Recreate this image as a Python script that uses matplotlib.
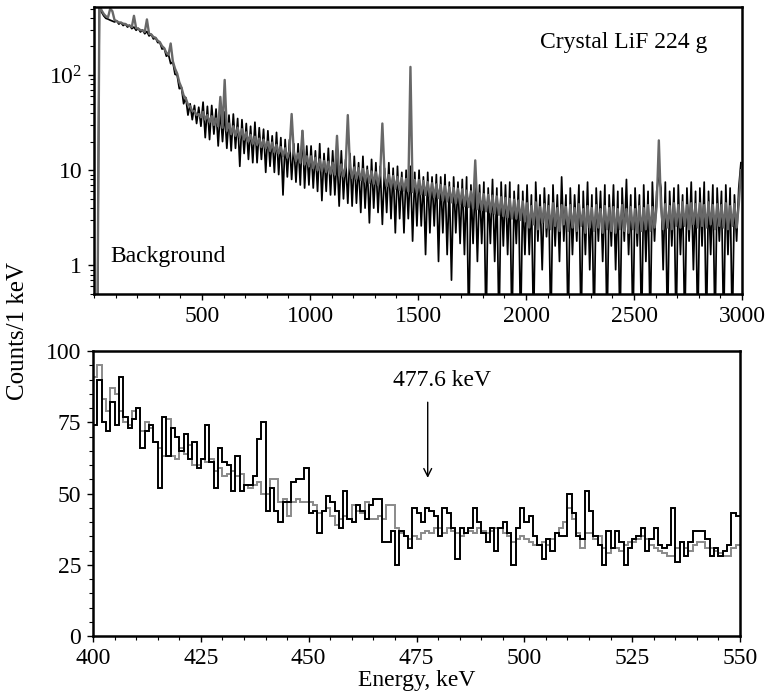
import numpy as np
import matplotlib
matplotlib.use("Agg")
import matplotlib.pyplot as plt
from matplotlib.ticker import MultipleLocator, FixedLocator, FixedFormatter, LogLocator, NullFormatter

# ---------------- data: top panel (10 keV groups, centres 5..2995 keV) ----------------
top_gray_rows = [
    [0.1, 0.1, 560, 480, 440, 415, 405, 500, 470, 380],
    [370, 358, 357, 347, 345, 333, 331, 320, 420, 312],
    [308, 297, 295, 284, 385, 272, 268, 252, 247, 230],
    [222, 202, 192, 172, 164, 215, 140, 117, 104, 84],
    [74, 61, 57, 49, 47, 42, 42, 38, 39, 36],
    [41, 34, 38, 32, 37, 30, 35, 29, 59, 28],
    [89, 26, 31, 24, 29, 23, 28, 22, 27, 21],
    [25, 20, 23.5, 19, 22.5, 18.5, 21.5, 17.5, 21, 17],
    [20, 16, 19.5, 15.5, 18.5, 15, 17.5, 14, 17, 13.5],
    [16, 39, 15.5, 12.5, 15, 12, 26, 11.5, 14, 11],
    [14, 10.5, 13.5, 10, 13, 9.8, 12.5, 9.6, 12.3, 9.2],
    [12, 9, 23, 8.8, 11.5, 8.6, 11.1, 38, 10.9, 8.3],
    [10.7, 8.1, 10.5, 7.9, 10.3, 7.6, 10, 7.4, 9.7, 7.2],
    [9.5, 7, 9.3, 31, 9.1, 6.8, 8.9, 6.6, 8.7, 6.4],
    [8.5, 6.2, 8.3, 6.1, 8.1, 6, 122, 5.9, 7.9, 5.8],
    [7.9, 5.6, 7.7, 5.5, 7.5, 5.3, 7.3, 5.2, 7.1, 5.1],
    [7, 4.8, 6.8, 4.7, 6.6, 4.6, 6.5, 4.5, 6.4, 4.4],
    [6.3, 4.2, 6.1, 4.1, 6, 4, 12.7, 3.9, 5.7, 3.8],
    [5.6, 3.7, 5.5, 3.6, 5.4, 3.5, 5.3, 3.4, 5.2, 3.3],
    [5.1, 3.2, 5, 3.1, 4.9, 3.1, 4.8, 3, 4.7, 2.9],
    [4.5, 2.5, 4.2, 2.7, 4.6, 2.4, 4.1, 2.8, 4.4, 2.5],
    [4.2, 2.4, 4.5, 2.6, 4.0, 2.3, 4.3, 2.7, 4.1, 2.3],
    [4.3, 2.5, 4.0, 2.3, 4.4, 2.6, 3.9, 2.2, 4.2, 2.5],
    [4.0, 2.3, 4.3, 2.5, 3.9, 2.2, 4.2, 2.4, 4.0, 2.3],
    [4.1, 2.2, 3.9, 2.4, 4.3, 2.3, 3.9, 2.2, 4.1, 2.4],
    [3.9, 2.2, 4.2, 2.3, 4.0, 2.4, 4.3, 2.3, 4.1, 2.5],
    [4.2, 20.6, 4.1, 2.4, 4.4, 2.5, 4.2, 2.4, 4.5, 2.6],
    [4.3, 2.5, 4.6, 2.6, 4.3, 2.4, 4.5, 2.7, 4.4, 2.5],
    [4.5, 2.6, 4.3, 2.5, 4.6, 2.7, 4.3, 2.4, 4.4, 2.6],
    [4.3, 2.5, 4.5, 2.4, 4.2, 2.6, 4.4, 2.5, 4.3, 10],
]
top_black_rows = [
    [0.1, 0.1, 600, 460, 420, 395, 388, 378, 370, 362],
    [372, 344, 356, 332, 346, 320, 334, 308, 320, 296],
    [310, 284, 298, 272, 288, 258, 268, 240, 246, 220],
    [220, 188, 192, 158, 164, 132, 138, 102, 100, 72],
    [74, 50, 58, 38, 50, 34, 48, 31, 46, 29],
    [52, 22, 47, 21, 48, 24, 44, 18, 43, 20],
    [41, 17, 38, 16, 39, 17, 35, 11, 34, 15],
    [31, 13, 29, 12, 32, 12, 28, 13, 27, 9.5],
    [26, 11, 23, 9.5, 25, 9, 22, 5.5, 21, 8.5],
    [21, 8, 19, 7.5, 19, 7, 26, 6.5, 18, 7],
    [18, 6.5, 16, 6, 19, 4.8, 15, 6, 17, 5.5],
    [16, 5.5, 14, 4.2, 16, 5, 13, 4.5, 15, 4.2],
    [14, 4.5, 12, 3.6, 14, 4, 11, 2.8, 13, 4],
    [12, 3.6, 11, 2.7, 10.5, 3.6, 12, 3.1, 10.5, 2.2],
    [11, 3.1, 9.5, 2.2, 10, 3.1, 11, 1.8, 9.5, 2.6],
    [10, 2.6, 8.5, 1.3, 9.5, 2.2, 8.5, 2.6, 9, 1.1],
    [8.5, 2.2, 9, 1.3, 7.5, 0.7, 8.5, 2.2, 7.5, 1.7],
    [8, 1.3, 8.5, 0.2, 7, 1.7, 8, 1.1, 7, 1.7],
    [7.5, 0.2, 6.5, 1.7, 8, 1.1, 6.5, 0.2, 7.5, 1.6],
    [7, 1.3, 7.5, 0.2, 6, 1.7, 7, 0.2, 6, 1.3],
    [7, 1.3, 5.5, 0.2, 7.5, 1.8, 5.5, 0.9, 6.5, 2],
    [5.5, 0.2, 7, 1.6, 5.5, 1.1, 8.5, 1.8, 5.5, 0.2],
    [6.5, 1.3, 5.5, 1.8, 7, 0.2, 6, 1.3, 7.5, 0.9],
    [5.5, 0.2, 6.5, 1.8, 6, 1.1, 7, 0.2, 5.5, 1.6],
    [7, 0.9, 6, 0.2, 6.5, 1.8, 8, 1.3, 5.5, 0.2],
    [6.5, 1.6, 5.5, 0.2, 7, 1.1, 6, 0.2, 7.5, 1.8],
    [6, 9, 6.5, 0.9, 7.5, 0.2, 6, 1.6, 6.5, 0.2],
    [7, 1.3, 5.5, 0.2, 6.5, 1.8, 7.5, 0.9, 6, 0.2],
    [6.5, 1.6, 7.5, 0.2, 6, 1.3, 7, 0.2, 6.5, 1.8],
    [6, 0.2, 7, 1.3, 6.5, 0.2, 5.5, 1.8, 6.5, 12],
]
top_gray = [v for row in top_gray_rows for v in row]
top_black = [v for row in top_black_rows for v in row]
top_energy = np.arange(5, 3000, 10)

# ---------------- data: bottom panel (1 keV bins, 400..550 keV) ----------------
bottom_black = [
    74, 90, 75, 72, 82, 74, 91, 77, 73, 76,
    80, 66, 72, 74, 68, 52, 77, 63, 73, 70,
    65, 71, 62, 68, 59, 62, 74, 61, 52, 66,
    61, 60, 51, 63, 51, 53, 53, 56, 69, 75,
    44, 52, 44, 40, 47, 47, 54, 55, 55, 59,
    43, 44, 36, 44, 49, 47, 44, 38, 51, 41,
    40, 46, 44, 41, 46, 48, 48, 33, 33, 37,
    25, 37, 35, 31, 45, 43, 40, 45, 44, 42,
    35, 45, 43, 38, 27, 38, 36, 38, 45, 40,
    36, 33, 38, 30, 38, 40, 36, 25, 38, 45,
    40, 42, 35, 32, 27, 34, 30, 36, 35, 35,
    50, 43, 35, 34, 51, 44, 35, 32, 25, 37,
    31, 37, 33, 25, 31, 34, 35, 38, 30, 34,
    38, 32, 31, 32, 45, 26, 33, 28, 33, 37,
    37, 37, 34, 28, 31, 28, 30, 32, 43, 42,
]
bottom_gray = [
    91, 95, 83, 79, 87, 85, 79, 75, 74, 79,
    80, 72, 75, 73, 68, 66, 63, 76, 63, 62,
    66, 64, 67, 60, 60, 62, 61, 62, 58, 59,
    56, 57, 58, 56, 57, 53, 52, 53, 54, 50,
    50, 55, 55, 47, 48, 42, 47, 48, 47, 47,
    47, 46, 43, 44, 45, 42, 39, 41, 42, 41,
    46, 44, 43, 47, 41, 41, 42, 41, 46, 46,
    38, 36, 35, 34, 35, 34, 36, 37, 36, 38,
    38, 36, 38, 37, 36, 35, 36, 37, 36, 38,
    37, 36, 37, 38, 38, 36, 35, 33, 34, 35,
    34, 33, 32, 32, 33, 32, 34, 36, 38, 40,
    45, 41, 36, 31, 36, 36, 34, 35, 31, 29,
    31, 31, 30, 32, 33, 33, 34, 35, 34, 32,
    31, 30, 29, 28, 28, 31, 33, 31, 30, 32,
    33, 33, 31, 31, 30, 29, 28, 28, 31, 32,
]
bottom_edges = np.arange(400, 551)

top_xticks = [500, 1000, 1500, 2000, 2500, 3000]
top_yticks = [1, 10, 100]
top_ylabels = ["1", "10", "$10^2$"]
bottom_xticks = [400, 425, 450, 475, 500, 525, 550]
bottom_yticks = [0, 25, 50, 75, 100]

# ---------------- styling ----------------
plt.rcParams["font.family"] = ["Liberation Serif", "DejaVu Serif"]
plt.rcParams["mathtext.fontset"] = "custom"
plt.rcParams["mathtext.rm"] = "Liberation Serif"
plt.rcParams["mathtext.it"] = "Liberation Serif:italic"
plt.rcParams["mathtext.bf"] = "Liberation Serif:bold"

FS = 17
fig = plt.figure(figsize=(7.65, 7.0), dpi=100)
ax1 = fig.add_axes([94 / 765, 1 - 294 / 700, 648 / 765, 287 / 700])
ax2 = fig.add_axes([93 / 765, 1 - 636 / 700, 647 / 765, 285 / 700])

# top panel
ax1.plot(top_energy, top_black, color="black", lw=1.25)
ax1.plot(top_energy, top_gray, color="#686868", lw=1.7)
ax1.set_yscale("log")
ax1.set_xlim(0, 3000)
ax1.set_ylim(0.5, 520)
ax1.xaxis.set_major_locator(FixedLocator(top_xticks))
ax1.xaxis.set_minor_locator(MultipleLocator(100))
ax1.yaxis.set_major_locator(FixedLocator(top_yticks))
ax1.yaxis.set_major_formatter(FixedFormatter(top_ylabels))
ax1.yaxis.set_minor_locator(LogLocator(base=10, subs=np.arange(2, 10)))
ax1.yaxis.set_minor_formatter(NullFormatter())
ax1.text(0.688, 0.875, "Crystal LiF 224 g", transform=ax1.transAxes,
         ha="left", va="center", fontsize=FS)
ax1.text(0.025, 0.129, "Background", transform=ax1.transAxes,
         ha="left", va="center", fontsize=FS)

# bottom panel
ax2.stairs(bottom_gray, bottom_edges, color="#8a8a8a", lw=1.4, baseline=None)
ax2.stairs(bottom_black, bottom_edges, color="black", lw=1.4, baseline=None)
ax2.set_xlim(400, 550)
ax2.set_ylim(0, 100)
ax2.xaxis.set_major_locator(FixedLocator(bottom_xticks))
ax2.xaxis.set_minor_locator(MultipleLocator(5))
ax2.yaxis.set_major_locator(FixedLocator(bottom_yticks))
ax2.yaxis.set_minor_locator(MultipleLocator(5))
ax2.annotate("", xy=(477.6, 54.5), xytext=(477.6, 83),
             arrowprops=dict(arrowstyle="->", color="black", lw=1.0,
                             mutation_scale=14))
ax2.text(480.9, 89.8, "477.6 keV", ha="center", va="center", fontsize=FS)
ax2.set_xlabel("Energy, keV", fontsize=FS, labelpad=1)

for ax in (ax1, ax2):
    for sp in ax.spines.values():
        sp.set_linewidth(1.8)
    ax.tick_params(which="major", direction="out", length=4.5, width=1,
                   labelsize=FS, pad=4)
    ax.tick_params(which="minor", direction="out", length=3, width=0.8)

fig.text(18 / 765, 1 - 331 / 700, "Counts/1 keV", rotation=90,
         ha="center", va="center", fontsize=18)

fig.savefig("out.png", dpi=100)
